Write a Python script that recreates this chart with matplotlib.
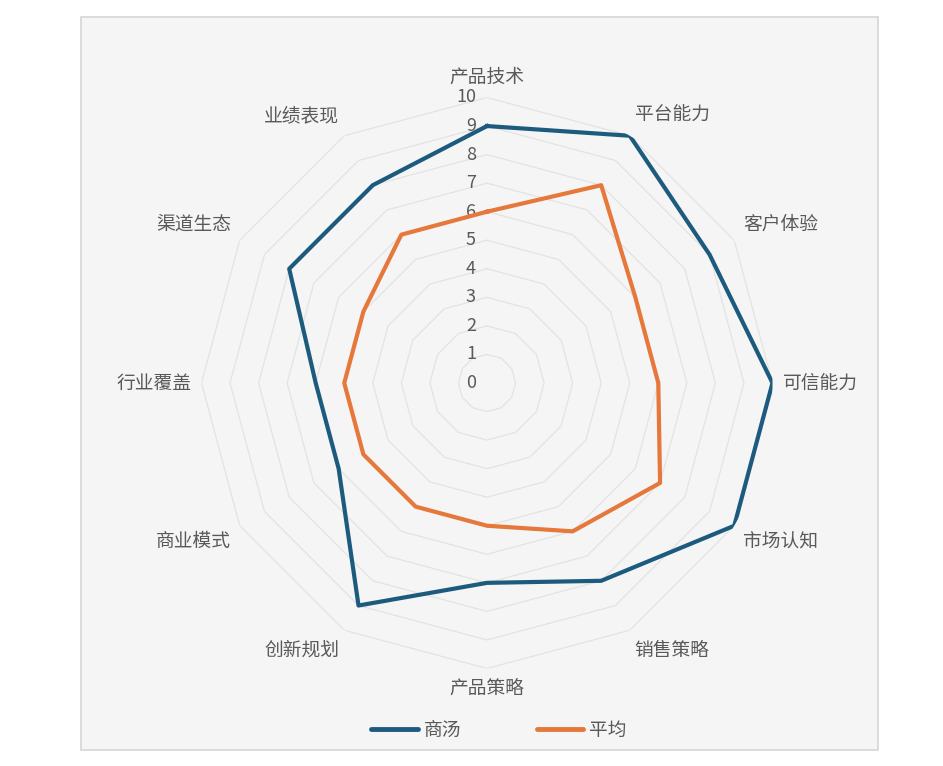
import numpy as np
import matplotlib
matplotlib.use("Agg")
import matplotlib.pyplot as plt
from matplotlib.patches import Rectangle
from matplotlib.lines import Line2D

plt.rcParams['font.family'] = ['Noto Sans CJK SC', 'DejaVu Sans']

# -------------------------
# Data
# -------------------------
categories = ["产品技术", "平台能力", "客户体验", "可信能力", "市场认知", "销售策略",
              "产品策略", "创新规划", "商业模式", "行业覆盖", "渠道生态", "业绩表现"]
shangtang = [9, 10, 9, 10, 10, 8, 7, 9, 6, 6, 8, 8]
average = [6, 8, 6, 6, 7, 6, 5, 5, 5, 5, 5, 6]
series_names = ["商汤", "平均"]
r_ticks = [0, 1, 2, 3, 4, 5, 6, 7, 8, 9, 10]

BLUE = "#1d5b7e"
ORANGE = "#e5783a"
TEXT = "#595959"
GRID = "#e3e3e3"

W, H = 943, 766
fig = plt.figure(figsize=(W / 100, H / 100), dpi=100)

# panel behind the chart
fig.patches.append(Rectangle((81 / W, 1 - 750 / H), (878 - 81) / W, (750 - 17) / H,
                             transform=fig.transFigure, facecolor="#f5f5f5",
                             edgecolor="#d6d6d6", linewidth=1.2, zorder=-5))

cx, cy, R = 487, 383, 285.5
ax = fig.add_axes([(cx - R) / W, 1 - (cy + R) / H, 2 * R / W, 2 * R / H], projection="polar")
ax.set_facecolor("none")
ax.set_theta_offset(np.pi / 2)
ax.set_theta_direction(-1)
ax.set_ylim(0, 10)
ax.grid(False)
ax.spines["polar"].set_visible(False)
ax.set_xticks([])
ax.set_yticks([])

n = len(categories)
theta = np.linspace(0, 2 * np.pi, n, endpoint=False)
theta_c = np.append(theta, theta[0])

# polygon grid rings
for v in r_ticks[1:]:
    ax.plot(theta_c, [v] * (n + 1), color=GRID, lw=0.9, zorder=1)

# radial tick labels
for v in r_ticks:
    ax.annotate(str(v), xy=(0, v), xytext=(-11, 0), textcoords="offset pixels",
                ha="right", va="center", fontsize=13, color=TEXT)

# category labels
for t, lab in zip(theta, categories):
    ang = np.pi / 2 - t
    c, s = np.cos(ang), np.sin(ang)
    dx = 10 * c
    dy = 20 * np.sign(s) * min(1, abs(s) * 1.6) if abs(s) > 0.01 else 0
    ha = "left" if c > 0.01 else ("right" if c < -0.01 else "center")
    ax.annotate(lab, xy=(t, 10), xytext=(dx, dy), textcoords="offset pixels",
                ha=ha, va="center", fontsize=13.5, color=TEXT, annotation_clip=False)

# series
ax.plot(theta_c, shangtang + shangtang[:1], color=BLUE, lw=3, zorder=3)
ax.plot(theta_c, average + average[:1], color=ORANGE, lw=3, zorder=3)

handles = [Line2D([], [], color=BLUE, lw=3.5, solid_capstyle="round"),
           Line2D([], [], color=ORANGE, lw=3.5, solid_capstyle="round")]
leg = fig.legend(handles, series_names, loc="center", bbox_to_anchor=(499 / W, 1 - 730 / H),
                 ncol=2, frameon=False, fontsize=13.5, handlelength=2.5,
                 handletextpad=0.3, columnspacing=4)
for txt in leg.get_texts():
    txt.set_color(TEXT)

fig.savefig("out.png", dpi=100, facecolor="white")
